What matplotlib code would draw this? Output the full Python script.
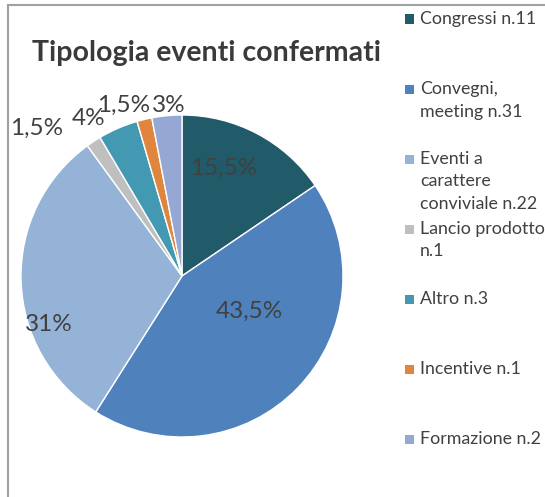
import matplotlib.pyplot as plt
from matplotlib.lines import Line2D
from matplotlib.patches import Rectangle

plt.rcParams['font.family'] = ['Lato', 'DejaVu Sans']

# event types, confirmed counts and share of total (%)
categories = ['Congressi n.11', 'Convegni,\nmeeting n.31', 'Eventi a\ncarattere\nconviviale n.22',
              'Lancio prodotto\nn.1', 'Altro n.3', 'Incentive n.1', 'Formazione n.2']
counts = [11, 31, 22, 1, 3, 1, 2]
shares = [15.5, 43.5, 31, 1.5, 4, 1.5, 3]
colors = ['#215A69', '#4F81BD', '#95B3D7', '#BFBFBF', '#4399B1', '#DF853D', '#95A8D3']

# where each percent label sits (pie data units, radius 1)
label_pos = [(0.26, 0.67), (0.42, -0.22), (-0.83, -0.30), (-0.90, 0.92),
             (-0.58, 0.98), (-0.36, 1.06), (-0.08, 1.06)]

W, H = 545, 497
fig = plt.figure(figsize=(W / 100, H / 100), dpi=100)

cx, cy, r = 182, 276, 161
ax = fig.add_axes([(cx - r) / W, (H - cy - r) / H, 2 * r / W, 2 * r / H])
wedges, _ = ax.pie(shares, colors=colors, startangle=90, counterclock=False, radius=1,
                   wedgeprops=dict(edgecolor='white', linewidth=1))
ax.set_xlim(-1, 1)
ax.set_ylim(-1, 1)
ax.set_aspect('equal')
ax.axis('off')

for s, (x, y) in zip(shares, label_pos):
    txt = f'{s:g}%'.replace('.', ',')
    ax.text(x, y, txt, ha='center', va='center', fontsize=17.5, color='#404040')

fig.text(207 / W, 1 - 53 / H, 'Tipologia eventi confermati', ha='center', va='center',
         fontsize=20.5, fontweight='bold', color='#3A3A3A')

# legend, one entry every 70 px down the right side
for i, (lab, w) in enumerate(zip(categories, wedges)):
    ymid = 19 + 70 * i
    fig.add_artist(Rectangle((405 / W, 1 - (ymid + 4.5) / H), 9 / W, 9 / H,
                             transform=fig.transFigure, facecolor=w.get_facecolor(),
                             edgecolor='none'))
    fig.text(420 / W, 1 - (ymid - 8) / H, lab, ha='left', va='top', fontsize=12.8,
             color='#404040', linespacing=1.5)

# chart frame (left and top edges)
fig.add_artist(Line2D([7.5 / W, 7.5 / W], [0, 1 - 5 / H], color='#A0A0A0', lw=1.5))
fig.add_artist(Line2D([7.5 / W, 1], [1 - 5 / H, 1 - 5 / H], color='#A0A0A0', lw=1.5))

fig.savefig('out.png', dpi=100)
